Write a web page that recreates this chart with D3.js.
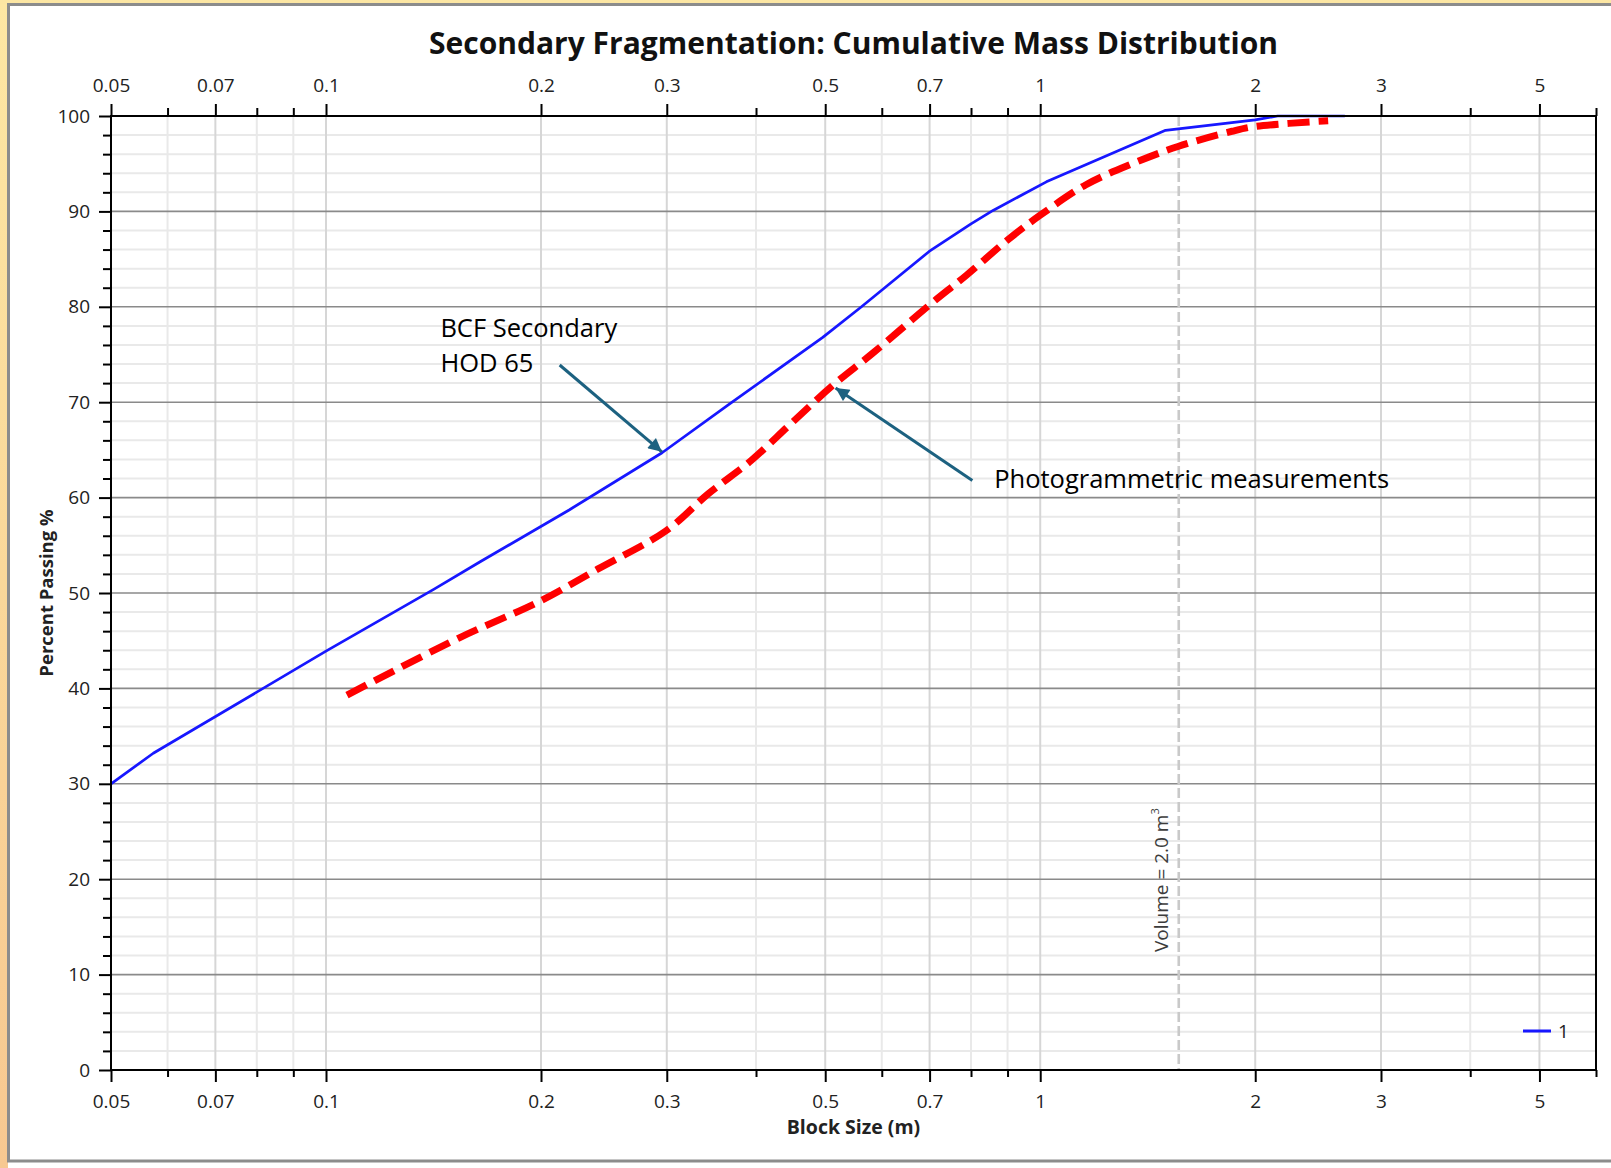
<!DOCTYPE html>
<html><head><meta charset="utf-8">
<script src="https://cdn.jsdelivr.net/npm/d3@7"></script>
<style>html,body{margin:0;padding:0;background:#fff;} svg{display:block;}</style>
</head><body>
<svg id="chart" width="1611" height="1168"></svg>
<script>
// ---------- data ----------
const blockSizeBCF = [0.05, 0.0573, 0.1, 0.1417, 0.1646, 0.219, 0.2955, 0.367, 0.496, 0.562, 0.699, 0.8, 0.859, 1.02, 1.498, 2.0, 2.15, 2.67];
const passingBCF   = [30.0, 33.2, 43.9, 50.4, 53.3, 58.7, 64.7, 69.8, 76.8, 80.0, 85.8, 88.7, 90.1, 93.1, 98.5, 99.6, 100, 100];

const blockSizePhoto = [0.107, 0.1537, 0.2, 0.240, 0.299, 0.343, 0.394, 0.447, 0.513, 0.582, 0.7, 0.788, 0.9, 1.0, 1.159, 1.346, 1.559, 1.856, 2.0, 2.53];
const passingPhoto   = [39.3, 45.3, 49.2, 52.5, 56.5, 60.4, 63.9, 67.7, 71.8, 75.1, 80.2, 83.3, 87.0, 89.6, 92.8, 95.0, 96.8, 98.4, 98.9, 99.5];

const xTickValues = [0.05, 0.07, 0.1, 0.2, 0.3, 0.5, 0.7, 1, 2, 3, 5];
const xTickLabels = ["0.05", "0.07", "0.1", "0.2", "0.3", "0.5", "0.7", "1", "2", "3", "5"];
const xMinorValues = [0.06, 0.08, 0.09, 0.4, 0.6, 0.8, 0.9, 4, 6];
const yTickValues = [0, 10, 20, 30, 40, 50, 60, 70, 80, 90, 100];
const yTickLabels = ["0", "10", "20", "30", "40", "50", "60", "70", "80", "90", "100"];
const yMinorValues = d3.range(0, 101, 2).filter(v => v % 10 !== 0);

const volumeLineX = 1.563;            // equivalent sphere diameter of 2.0 m3
const titleText = "Secondary Fragmentation: Cumulative Mass Distribution";
const xTitle = "Block Size (m)";
const yTitle = "Percent Passing %";
const legendLabels = ["1"];

// annotations in data space [x, y]
const annBCF = {lines: ["BCF Secondary", "HOD 65"], at: [0.1446, 76.8], tail: [0.2124, 73.9], tip: [0.2953, 64.8]};
const annPhoto = {lines: ["Photogrammetric measurements"], at: [0.862, 61.0], tail: [0.8035, 61.8], tip: [0.517, 71.5]};

// ---------- layout ----------
const svg = d3.select("#chart");
const W = 1611, H = 1168;
const plot = {left: 111, right: 1596, top: 116, bottom: 1070};

const x = d3.scaleLog().domain([0.05, 6]).range([plot.left, plot.right]);
const y = d3.scaleLinear().domain([0, 100]).range([plot.bottom, plot.top]);

// frame
const defs = svg.append("defs");
const grad = defs.append("linearGradient").attr("id", "frameGrad").attr("x1", 0).attr("y1", 0).attr("x2", 0).attr("y2", 1);
grad.append("stop").attr("offset", "0%").attr("stop-color", "#fde7a3");
grad.append("stop").attr("offset", "100%").attr("stop-color", "#f7c891");
svg.append("rect").attr("width", W).attr("height", H).attr("fill", "#ffffff");
svg.append("rect").attr("x", 0).attr("y", 0).attr("width", 8).attr("height", H).attr("fill", "url(#frameGrad)");
svg.append("rect").attr("x", 0).attr("y", 0).attr("width", W).attr("height", 4).attr("fill", "#fce6a3");
svg.append("rect").attr("x", 8.5).attr("y", 4.5).attr("width", W + 20).attr("height", 1156.5)
  .attr("fill", "#ffffff").attr("stroke", "#8c8c8c").attr("stroke-width", 3);

const g = svg.append("g");

// minor gridlines
g.append("g").selectAll("line").data(yMinorValues).join("line")
  .attr("x1", plot.left).attr("x2", plot.right).attr("y1", d => y(d)).attr("y2", d => y(d))
  .attr("stroke", "#e9e9e9").attr("stroke-width", 2);
g.append("g").selectAll("line").data(xMinorValues.filter(v => v < 6)).join("line")
  .attr("x1", d => x(d)).attr("x2", d => x(d)).attr("y1", plot.top).attr("y2", plot.bottom)
  .attr("stroke", "#e9e9e9").attr("stroke-width", 2);
g.append("g").selectAll("line").data(xTickValues.slice(1)).join("line")
  .attr("x1", d => x(d)).attr("x2", d => x(d)).attr("y1", plot.top).attr("y2", plot.bottom)
  .attr("stroke", "#d6d6d6").attr("stroke-width", 2);
// major horizontal gridlines
g.append("g").selectAll("line").data(yTickValues.slice(1, -1)).join("line")
  .attr("x1", plot.left).attr("x2", plot.right).attr("y1", d => y(d)).attr("y2", d => y(d))
  .attr("stroke", "#8a8a8a").attr("stroke-width", 1.6);

// volume reference line
g.append("line").attr("x1", x(volumeLineX)).attr("x2", x(volumeLineX))
  .attr("y1", plot.top).attr("y2", plot.bottom)
  .attr("stroke", "#c9c9c9").attr("stroke-width", 2.6).attr("stroke-dasharray", "10,4");
const volText = g.append("text")
  .attr("transform", `translate(${x(volumeLineX) - 11},952) rotate(-90)`)
  .attr("font-family", "'Open Sans', sans-serif").attr("font-size", 19).attr("fill", "#3c3c3c");
volText.append("tspan").text("Volume = 2.0 m");
volText.append("tspan").attr("font-size", 11).attr("dy", -9).text("3");

// curves
const lineGen = d3.line().x(d => x(d[0])).y(d => y(d[1]));
g.append("path").datum(d3.zip(blockSizeBCF, passingBCF))
  .attr("d", lineGen).attr("fill", "none").attr("stroke", "#1717ff").attr("stroke-width", 2.7)
  .attr("stroke-linejoin", "round");
g.append("path").datum(d3.zip(blockSizePhoto, passingPhoto))
  .attr("d", lineGen.curve(d3.curveCatmullRom.alpha(0.5))).attr("fill", "none").attr("stroke", "#ff0000")
  .attr("stroke-width", 7).attr("stroke-dasharray", "22,9");

// axes
const axisStyle = sel => {
  sel.select(".domain").remove();
  sel.selectAll(".tick line").attr("stroke", "#000").attr("stroke-width", 2);
  sel.selectAll(".tick text").attr("font-family", "'Open Sans', sans-serif").attr("font-size", 19).attr("fill", "#222");
};
g.append("g").attr("transform", `translate(0,${plot.top})`)
  .call(d3.axisTop(x).tickValues(xTickValues).tickFormat((d, i) => xTickLabels[i]).tickSize(12).tickPadding(12))
  .call(axisStyle);
g.append("g").attr("transform", `translate(0,${plot.top})`)
  .call(d3.axisTop(x).tickValues(xMinorValues).tickFormat("").tickSize(8)).call(axisStyle);
const xb = g.append("g").attr("transform", `translate(0,${plot.bottom})`)
  .call(d3.axisBottom(x).tickValues(xTickValues).tickFormat((d, i) => xTickLabels[i]).tickSize(12).tickPadding(12))
  .call(axisStyle);
xb.selectAll(".tick text").attr("y", 38).attr("dy", null);
g.append("g").attr("transform", `translate(0,${plot.bottom})`)
  .call(d3.axisBottom(x).tickValues(xMinorValues).tickFormat("").tickSize(7)).call(axisStyle);
g.append("g").attr("transform", `translate(${plot.left},0)`)
  .call(d3.axisLeft(y).tickValues(yTickValues).tickFormat((d, i) => yTickLabels[i]).tickSize(12).tickPadding(9))
  .call(axisStyle);
g.append("g").attr("transform", `translate(${plot.left},0)`)
  .call(d3.axisLeft(y).tickValues(yMinorValues).tickFormat("").tickSize(8)).call(axisStyle);

// plot border
g.append("rect").attr("x", plot.left).attr("y", plot.top)
  .attr("width", plot.right - plot.left).attr("height", plot.bottom - plot.top)
  .attr("fill", "none").attr("stroke", "#000").attr("stroke-width", 2);

// titles
svg.append("text").attr("x", (plot.left + plot.right) / 2).attr("y", 54)
  .attr("text-anchor", "middle").attr("font-family", "'Open Sans', sans-serif")
  .attr("font-weight", "bold").attr("font-size", 30).attr("fill", "#111").text(titleText);
svg.append("text").attr("x", (plot.left + plot.right) / 2).attr("y", 1134)
  .attr("text-anchor", "middle").attr("font-family", "'Open Sans', sans-serif")
  .attr("font-weight", "bold").attr("font-size", 19.5).attr("fill", "#222").text(xTitle);
svg.append("text").attr("transform", "translate(53,593) rotate(-90)")
  .attr("text-anchor", "middle").attr("font-family", "'Open Sans', sans-serif")
  .attr("font-weight", "bold").attr("font-size", 18.5).attr("fill", "#222").text(yTitle);

// legend
const leg = svg.append("g").attr("transform", "translate(1523,1031)");
leg.append("line").attr("x1", 0).attr("x2", 28).attr("stroke", "#1717ff").attr("stroke-width", 3);
leg.append("text").attr("x", 35).attr("y", 7).attr("font-family", "'Open Sans', sans-serif")
  .attr("font-size", 19).attr("fill", "#222").text(legendLabels[0]);

// annotations
const annColor = "#1c6180";
defs.append("marker").attr("id", "arrowHead").attr("viewBox", "0 0 10 10").attr("refX", 10).attr("refY", 5)
  .attr("markerWidth", 5.5).attr("markerHeight", 4.5).attr("markerUnits", "strokeWidth").attr("orient", "auto")
  .append("path").attr("d", "M0,0 L10,5 L0,10 Z").attr("fill", annColor);
[annBCF, annPhoto].forEach(a => {
  g.append("line").attr("x1", x(a.tail[0])).attr("y1", y(a.tail[1]))
    .attr("x2", x(a.tip[0])).attr("y2", y(a.tip[1]))
    .attr("stroke", annColor).attr("stroke-width", 3).attr("marker-end", "url(#arrowHead)");
  a.lines.forEach((s, i) => g.append("text").attr("font-family", "'Open Sans', sans-serif")
    .attr("font-size", 25.5).attr("fill", "#000")
    .attr("x", x(a.at[0])).attr("y", y(a.at[1]) + i * 34.5).text(s));
});
</script>
</body></html>
